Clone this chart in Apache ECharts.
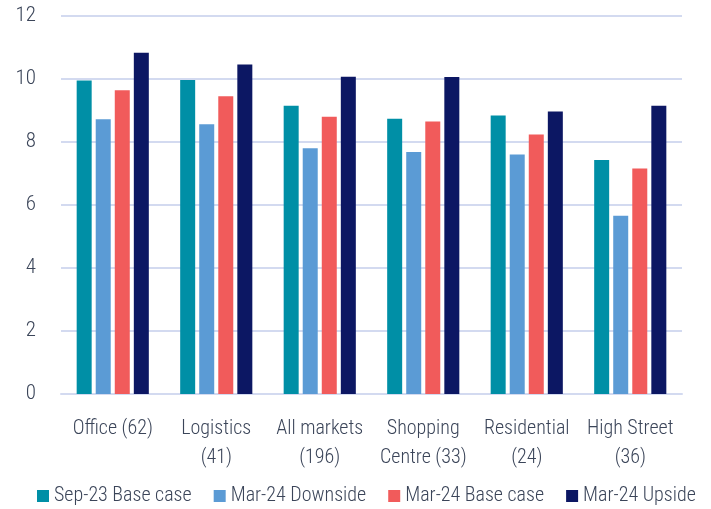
<!DOCTYPE html>
<html><head><meta charset="utf-8">
<script src="https://cdn.jsdelivr.net/npm/echarts@6/dist/echarts.min.js"></script>
<style>html,body{margin:0;padding:0;background:#fff}#c{width:711px;height:509px}</style>
</head><body><div id="c"></div>
<script>
const categories = ["Office (62)", "Logistics\n(41)", "All markets\n(196)", "Shopping\nCentre (33)", "Residential\n(24)", "High Street\n(36)"];
const seriesNames = ["Sep-23 Base case", "Mar-24 Downside", "Mar-24 Base case", "Mar-24 Upside"];
const sep23Base = [9.95, 9.97, 9.15, 8.74, 8.84, 7.43];
const mar24Down = [8.72, 8.56, 7.80, 7.68, 7.60, 5.66];
const mar24Base = [9.64, 9.45, 8.80, 8.65, 8.24, 7.16];
const mar24Up = [10.83, 10.46, 10.07, 10.06, 8.97, 9.15];
const colors = ["#008FA6", "#5B9BD5", "#F15B5B", "#0C1763"];
const values = [sep23Base, mar24Down, mar24Base, mar24Up];
const font = "'Roboto Condensed', 'Noto Sans Display', Roboto";
const textColor = "#3b4559";
const chart = echarts.init(document.getElementById('c'), null, {renderer: 'canvas'});
chart.setOption({
  animation: false,
  grid: {left: 61, right: 29, top: 16, bottom: 115, containLabel: false},
  legend: {
    bottom: -2, left: 32, itemWidth: 12, itemHeight: 12, itemGap: 22,
    icon: 'rect',
    textStyle: {fontFamily: font, fontSize: 20, color: textColor, fontWeight: 300},
    data: seriesNames
  },
  xAxis: {
    type: 'category', data: categories,
    axisLine: {lineStyle: {color: '#d3daf0', width: 2}},
    axisTick: {show: false},
    axisLabel: {fontFamily: font, fontSize: 20, color: textColor, fontWeight: 300, margin: 20, lineHeight: 29, interval: 0}
  },
  yAxis: {
    type: 'value', min: 0, max: 12, interval: 2,
    axisLine: {show: false}, axisTick: {show: false},
    splitLine: {lineStyle: {color: '#d3daf0', width: 2}},
    axisLabel: {fontFamily: font, fontSize: 21, color: textColor, fontWeight: 300, margin: 25}
  },
  series: seriesNames.map((n, i) => ({
    name: n, type: 'bar', data: values[i], barWidth: 15, barGap: '27%',
    itemStyle: {color: colors[i]}
  }))
});
</script></body></html>
